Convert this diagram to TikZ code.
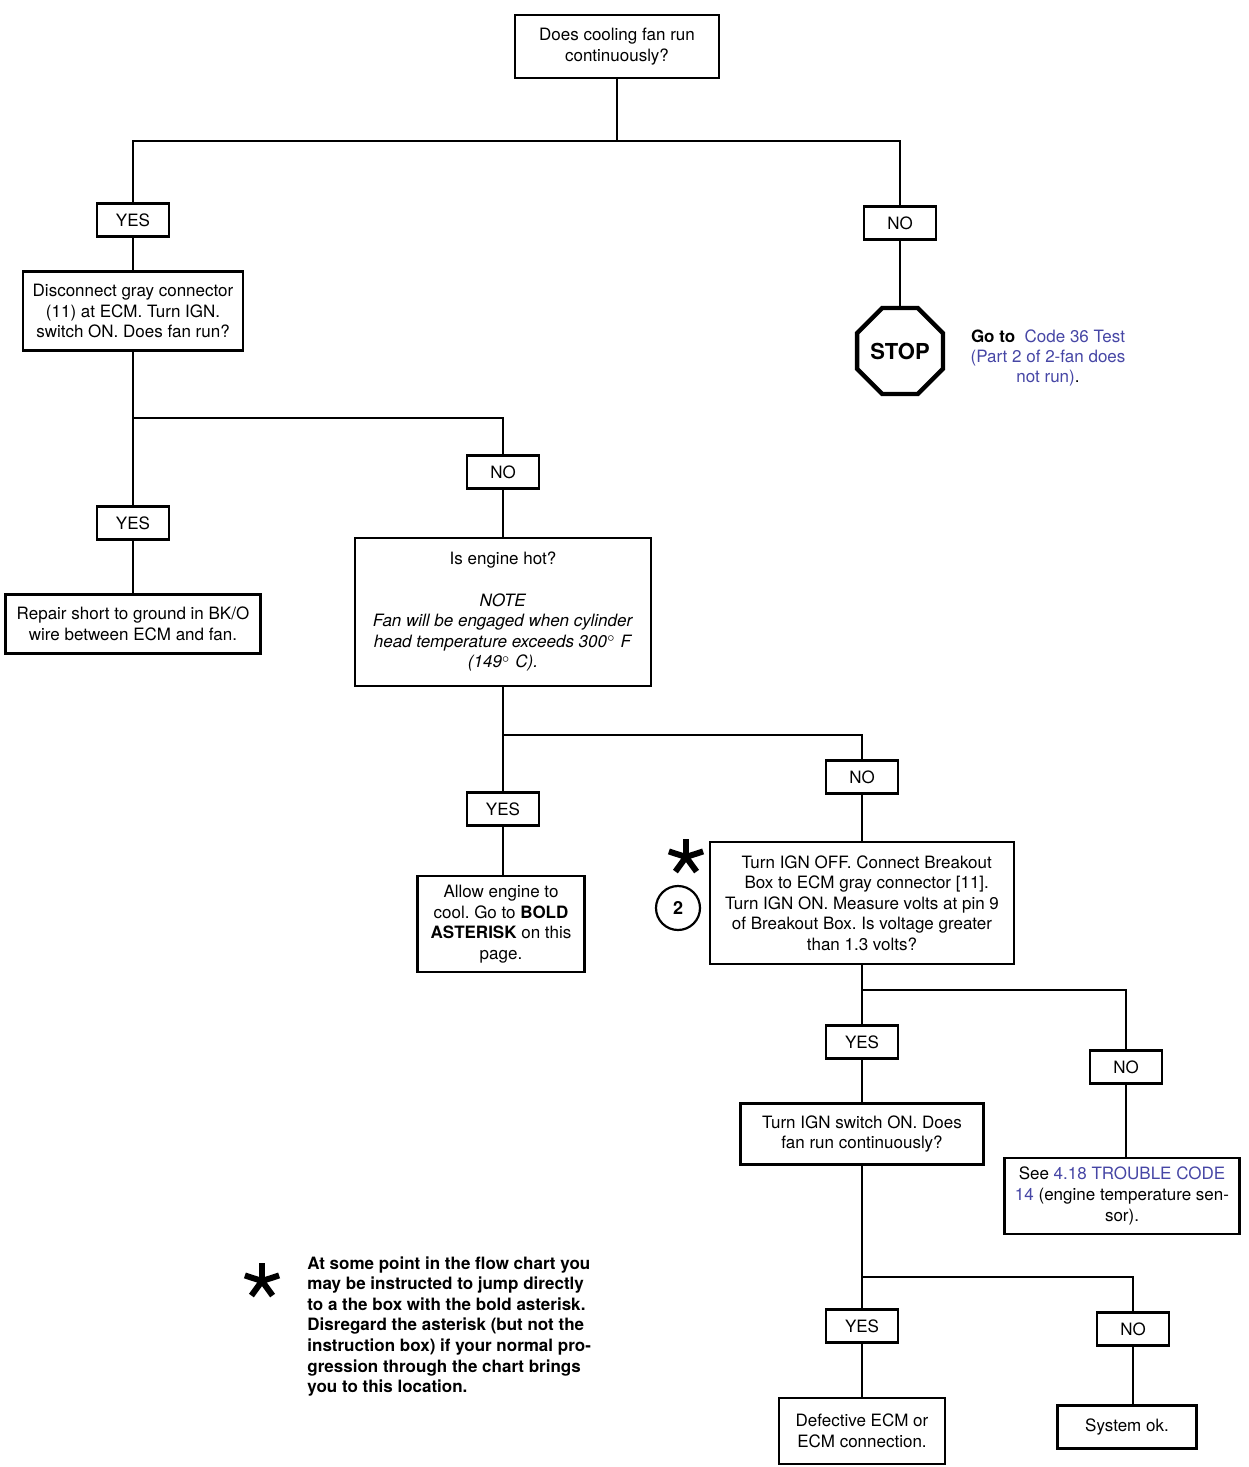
\documentclass[tikz,border=0pt]{standalone}
\usepackage{fontspec}
\setmainfont{TeX Gyre Heros}
\usetikzlibrary{shapes.geometric}
\definecolor{linkblue}{RGB}{70,70,165}
\frenchspacing
\begin{document}
\begin{tikzpicture}[x=0.5pt, y=-0.5pt]

\tikzstyle{box}=[draw, line width=1.3pt, align=center, inner sep=0pt, font=\fontsize{8.5}{10.3}\selectfont]
\tikzstyle{ans}=[draw, line width=1.2pt, minimum width=36pt, minimum height=16.5pt, inner sep=0pt, font=\fontsize{8.5}{10.3}\selectfont]
\tikzstyle{wire}=[line width=1pt]

\useasboundingbox (0,0) rectangle (1248,1467);

% --- top question ---
\node[box, minimum width=102pt, minimum height=31.5pt] (fanq) at (617,46.5) {Does cooling fan run\\continuously?};
\coordinate (j1) at (617,141);
\node[ans] (yes1) at (133,220) {YES};
\node[ans] (no1) at (900,223) {NO};

% --- stop branch ---
\node[draw, regular polygon, regular polygon sides=8, minimum size=46.5pt, line width=2.2pt, inner sep=0pt, font=\bfseries\fontsize{11}{12}\selectfont] (stop) at (900,351) {STOP};
\node[align=center, inner sep=0pt, font=\fontsize{8.5}{10}\selectfont] (goto) at (1048,358) {\textbf{Go to}\ \ \textcolor{linkblue}{Code 36 Test}\\\textcolor{linkblue}{(Part 2 of 2-fan does}\\\textcolor{linkblue}{not run)}.};

% --- disconnect connector ---
\node[box, minimum width=110pt, minimum height=39.5pt] (disc) at (133,311) {Disconnect gray connector\\(11) at ECM. Turn IGN.\\switch ON. Does fan run?};
\coordinate (j2) at (133,418);
\node[ans] (yes2) at (133,523) {YES};
\node[ans] (no2) at (503,472) {NO};
\node[box, minimum width=127.5pt, minimum height=29.5pt] (repair) at (133,624) {Repair short to ground in BK/O\\wire between ECM and fan.};

% --- engine hot ---
\node[box, minimum width=148pt, minimum height=74pt] (hot) at (503,612) {Is engine hot?\\[10.3pt]\textit{NOTE}\\\textit{Fan will be engaged when cylinder}\\\textit{head temperature exceeds 300$^\circ$ F}\\\textit{(149$^\circ$ C).}};
\coordinate (j3) at (503,735);
\node[ans] (yes3) at (503,809) {YES};
\node[ans] (no3) at (862,777) {NO};
\node[box, minimum width=83.5pt, minimum height=48pt] (allow) at (501,924) {Allow engine to\\cool. Go to \textbf{BOLD}\\\textbf{ASTERISK} on this\\page.};

% --- breakout box ---
\node[box, minimum width=152pt, minimum height=61pt] (ign) at (862,903) {\ \ Turn IGN OFF. Connect Breakout\\\ \ Box to ECM gray connector [11].\\Turn IGN ON. Measure volts at pin 9\\of Breakout Box. Is voltage greater\\than 1.3 volts?};
\coordinate (ast1) at (686,857);
\foreach \a in {90,162,234,306,378}
  \draw[line width=3pt] (ast1) -- ++(\a:9pt);
\node[draw, circle, minimum size=22pt, inner sep=0pt, line width=1.1pt, font=\bfseries\fontsize{9}{10}\selectfont] (two) at (678,908) {2};
\coordinate (j4) at (862,990);
\node[ans] (yes4) at (862,1042) {YES};
\node[ans] (no4) at (1126,1067) {NO};
\node[box, minimum width=121.5pt, minimum height=30.5pt] (sw) at (862,1134) {Turn IGN switch ON. Does\\fan run continuously?};
\node[box, minimum width=117.5pt, minimum height=38pt] (see) at (1122,1196) {See \textcolor{linkblue}{4.18 TROUBLE CODE}\\\textcolor{linkblue}{14} (engine temperature sen-\\sor).};

% --- last question ---
\coordinate (j5) at (862,1277);
\node[ans] (yes5) at (862,1326) {YES};
\node[ans] (no5) at (1133,1329) {NO};
\node[box, minimum width=83pt, minimum height=33pt] (ecm) at (862,1431) {Defective ECM or\\ECM connection.};
\node[box, minimum width=69.5pt, minimum height=21.5pt] (sysok) at (1127,1427) {System ok.};

% --- connectors ---
\draw[wire] (fanq.south) -- (j1);
\draw[wire] (j1) -| (yes1.north);
\draw[wire] (j1) -| (no1.north);
\draw[wire] (yes1.south) -- (disc.north);
\draw[wire] (no1.south) -- (no1.south |- stop.north);
\draw[wire] (disc.south) -- (j2);
\draw[wire] (j2) -- (yes2.north);
\draw[wire] (j2) -| (no2.north);
\draw[wire] (yes2.south) -- (repair.north);
\draw[wire] (no2.south) -- (hot.north);
\draw[wire] (hot.south) -- (j3);
\draw[wire] (j3) -| (yes3.north);
\draw[wire] (j3) -| (no3.north);
\draw[wire] (yes3.south) -- (yes3.south |- allow.north);
\draw[wire] (no3.south) -- (ign.north);
\draw[wire] (ign.south) -- (j4);
\draw[wire] (j4) -- (yes4.north);
\draw[wire] (j4) -| (no4.north);
\draw[wire] (yes4.south) -- (sw.north);
\draw[wire] (no4.south) -- (no4.south |- see.north);
\draw[wire] (sw.south) -- (j5);
\draw[wire] (j5) -- (yes5.north);
\draw[wire] (j5) -| (no5.north);
\draw[wire] (yes5.south) -- (ecm.north);
\draw[wire] (no5.south) -- (no5.south |- sysok.north);

% --- footnote ---
\coordinate (ast2) at (262,1281);
\foreach \a in {90,162,234,306,378}
  \draw[line width=3pt] (ast2) -- ++(\a:9pt);
\node[anchor=north west, align=left, inner sep=0pt, font=\bfseries\fontsize{8.5}{10.3}\selectfont] (fnote) at (307,1256) {At some point in the flow chart you\\may be instructed to jump directly\\to a the box with the bold asterisk.\\Disregard the asterisk (but not the\\instruction box) if your normal pro-\\gression through the chart brings\\you to this location.};

\end{tikzpicture}
\end{document}
